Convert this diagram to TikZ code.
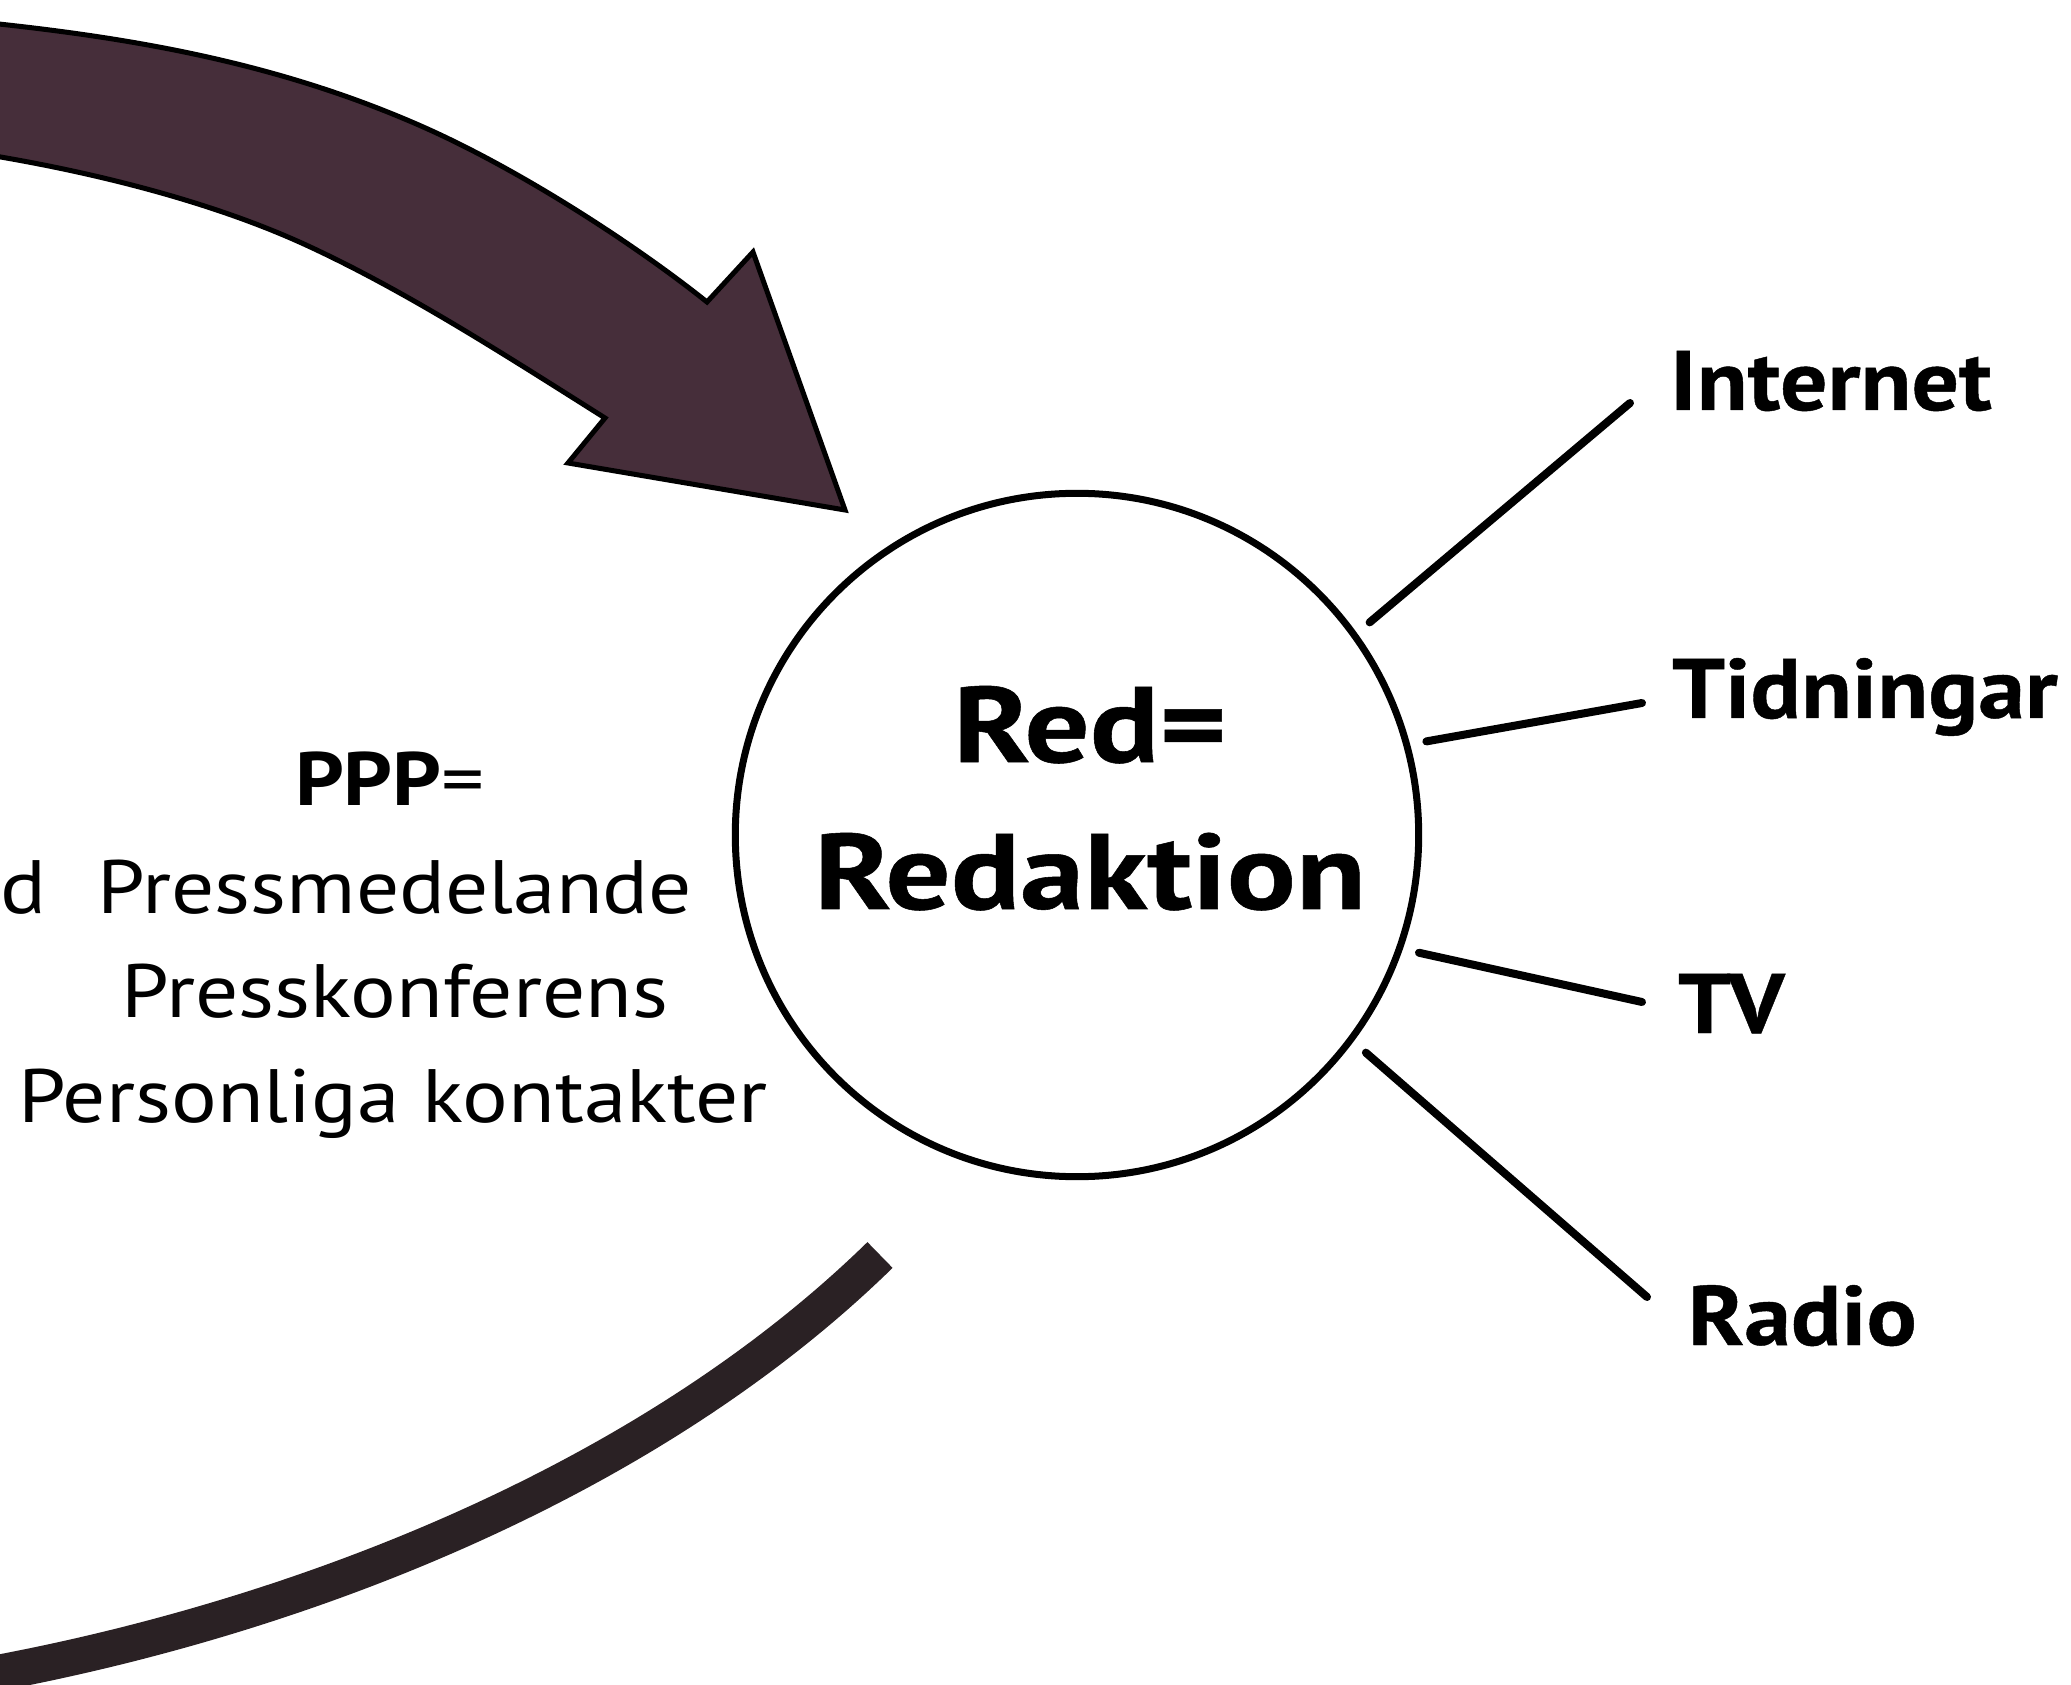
\documentclass[tikz,border=0pt]{standalone}
\usepackage{fontspec}
\setmainfont{PT Sans}
\newfontfamily\regfont[FakeStretch=1.13]{PT Sans}
\newfontfamily\labfont[FakeStretch=1.11,FakeBold=0.5]{PT Sans}
\newfontfamily\redfont[FakeStretch=1.2,FakeBold=0.5]{PT Sans}
\definecolor{arrowfill}{RGB}{70,46,58}
\definecolor{arcfill}{RGB}{42,33,36}
\begin{document}
\begin{tikzpicture}[x=0.01cm,y=-0.01cm,
  every node/.style={inner sep=0pt, outer sep=0pt},
  medium/.style={font=\labfont\fontsize{24}{28}\selectfont\bfseries, anchor=base west},
  pline/.style={font=\regfont\fontsize{21.5}{26}\selectfont, anchor=base},
  redtext/.style={font=\redfont\fontsize{30.5}{36}\selectfont\bfseries, anchor=base},
  conn/.style={line width=0.08cm, line cap=round},
  bigarrow/.style={fill=arrowfill, draw=black, line width=0.05cm, line join=miter},
  cycle arc/.style={draw=arcfill, line width=0.36cm}
]
\fill[white] (0,0) rectangle (2071,1685);
\useasboundingbox (0,0) rectangle (2071,1685);
\clip (0,0) rectangle (2071,1685);

% big incoming arrow
\draw[bigarrow] (-30,21) .. controls (120,36) and (271,60) .. (421,126)
  .. controls (521,170) and (637,246) .. (707,302)
  -- (753,252) -- (845,510) -- (568,463) -- (605,418)
  .. controls (505,355) and (406,291) .. (306,245)
  .. controls (206,199) and (80,169) .. (-30,152) -- cycle;

% bottom arc of the cycle
\draw[cycle arc] (-30,1678) .. controls (300,1620) and (650,1480) .. (880,1255);

% central circle
\node[circle, draw, line width=0.07cm, minimum size=6.83cm, outer sep=0.2cm] (red) at (1077,835) {};
\node[redtext] (redeq) at (1090,762) {Red=};
\node[redtext] (redak) at (1090,909) {Redaktion};

% left text
\node[pline] (ppp) at (390,805) {\textbf{PPP}=};
\node[pline] (pm) at (395,913) {Pressmedelande};
\node[pline] (pk) at (395,1017) {Presskonferens};
\node[pline] (pers) at (393,1122) {Personliga kontakter};
\node[pline, anchor=base east] (dfrag) at (46,913) {d};

% media labels
\node[medium] (internet) at (1670,410) {Internet};
\node[medium] (tidn) at (1672,718) {Tidningar};
\node[medium] (tv) at (1678,1033) {TV};
\node[medium] (radio) at (1688,1345) {Radio};

\coordinate (iE) at (1630,403);
\coordinate (tE) at (1642,703);
\coordinate (vE) at (1642,1002);
\coordinate (rE) at (1647,1297);

\draw[conn] (red.36.5) -- (iE);
\draw[conn] (red.15) -- (tE);
\draw[conn] (red.-19.1) -- (vE);
\draw[conn] (red.-37.3) -- (rE);
\end{tikzpicture}
\end{document}
